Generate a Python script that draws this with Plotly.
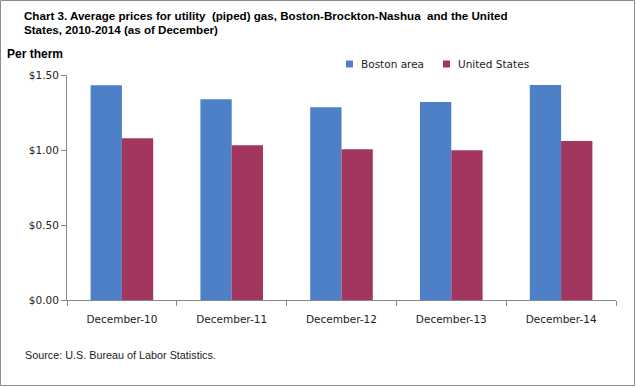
import plotly.graph_objects as go

categories = ["December-10", "December-11", "December-12", "December-13", "December-14"]
boston = [1.431, 1.338, 1.285, 1.320, 1.433]
united_states = [1.078, 1.031, 1.005, 0.998, 1.060]
y_ticks = [0, 0.5, 1.0, 1.5]
y_tick_labels = ["$0.00", "$0.50", "$1.00", "$1.50"]
series_names = ["Boston area", "United States"]
series_colors = ["#4D80C6", "#A3365F"]

W, H = 636, 387
L, R, T, B = 67, 20, 75, 87
pw, ph = W - L - R, H - T - B

def px(x):
    return (x - L) / pw

def py(y):
    return (H - B - y) / ph

font = "Liberation Sans"
tfont = "DejaVu Sans"

fig = go.Figure()
for name, vals, col in zip(series_names, [boston, united_states], series_colors):
    fig.add_trace(go.Bar(x=categories, y=vals, name=name, hoverinfo="skip",
                         marker=dict(color=col, line=dict(width=0))))

fig.update_layout(
    width=W, height=H,
    margin=dict(l=L, r=R, t=T, b=B),
    paper_bgcolor="white", plot_bgcolor="white",
    barmode="group", bargap=0.43, bargroupgap=0,
    font=dict(family=font, size=11, color="#222"),
    showlegend=False,
    xaxis=dict(type="category", showline=True, linecolor="#888", linewidth=1,
               ticks="outside", tickson="boundaries", ticklen=5, tickcolor="#888",
               ticklabelstandoff=9,
               showgrid=False, tickfont=dict(family=tfont, size=10.5, color="#222")),
    yaxis=dict(range=[0, 1.5], tickvals=y_ticks, ticktext=y_tick_labels,
               showline=True, linecolor="#888", linewidth=1, ticks="outside",
               ticklen=5, tickcolor="#888", showgrid=False, zeroline=False,
               tickfont=dict(family=tfont, size=10.5, color="#222")),
)

annotations = [
    dict(text="<b>Chart 3. Average prices for utility  (piped) gas, Boston-Brockton-Nashua  and the United</b>",
         x=px(22), y=py(15), xanchor="left", yanchor="middle", font=dict(size=11.6, color="#000")),
    dict(text="<b>States, 2010-2014 (as of December)</b>",
         x=px(22), y=py(29), xanchor="left", yanchor="middle", font=dict(size=11.6, color="#000")),
    dict(text="<b>Per therm</b>", x=px(5), y=py(54), xanchor="left", yanchor="middle",
         font=dict(size=12, color="#000")),
    dict(text="Source: U.S. Bureau of Labor Statistics.", x=px(23), y=py(355),
         xanchor="left", yanchor="middle", font=dict(size=10.8, color="#222")),
]
# custom legend
leg_marker_x = [346, 443]
leg_text_x = [359, 456]
leg_y = 64
for name, col, mx, tx in zip(series_names, series_colors, leg_marker_x, leg_text_x):
    fig.add_shape(type="rect", xref="paper", yref="paper",
                  x0=px(mx), x1=px(mx + 7), y0=py(leg_y + 3.5), y1=py(leg_y - 3.5),
                  line=dict(width=0), fillcolor=col)
    annotations.append(dict(text=name, x=px(tx), y=py(leg_y), xanchor="left",
                            yanchor="middle", font=dict(family=tfont, size=10.5, color="#222")))
for a in annotations:
    a.update(xref="paper", yref="paper", showarrow=False)
fig.update_layout(annotations=annotations)

fig.add_shape(type="rect", xref="paper", yref="paper",
              x0=px(0.5), x1=px(W - 1.5), y0=py(H - 1.5), y1=py(0.5),
              line=dict(color="#8C8C8C", width=1), fillcolor="rgba(0,0,0,0)", layer="below")

fig.write_html("out.html", config={"displayModeBar": False},
               post_script="document.body.style.margin='0';document.body.style.padding='0';")
